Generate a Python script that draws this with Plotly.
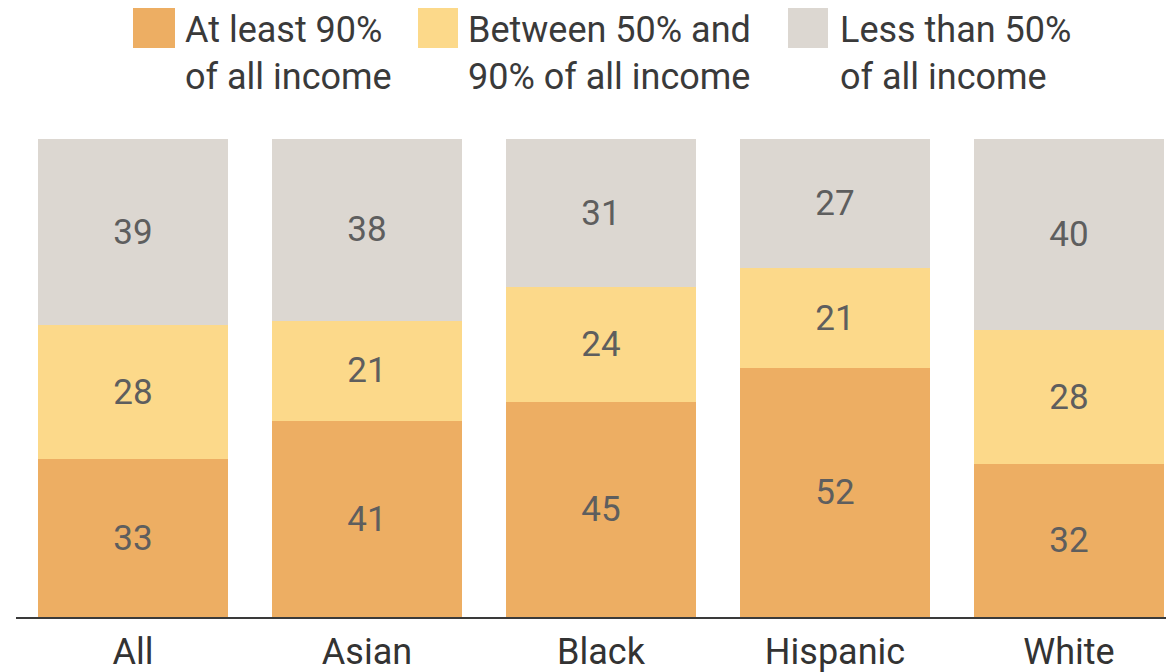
import plotly.graph_objects as go

# Share of income by group (percent)
groups = ["All", "Asian", "Black", "Hispanic", "White"]
at_least_90 = [33, 41, 45, 52, 32]
between_50_90 = [28, 21, 24, 21, 28]
less_than_50 = [39, 38, 31, 27, 40]

series_lines = [
    ("At least 90%", "of all income"),
    ("Between 50% and", "90% of all income"),
    ("Less than 50%", "of all income"),
]
series_values = [at_least_90, between_50_90, less_than_50]
series_colors = ["#EDAE63", "#FCD98A", "#DCD7D1"]

W, H = 1166, 672
M_L, M_R, M_T, M_B = 16, 0, 139, 55
FONT = "Roboto, 'Open Sans', sans-serif"

plot_w = W - M_L - M_R
plot_h = H - M_T - M_B


def px_x(px):
    return (px - M_L) / plot_w


def px_y(py):
    return (H - M_B - py) / plot_h


fig = go.Figure()
for lines, vals, color in zip(series_lines, series_values, series_colors):
    fig.add_trace(go.Bar(
        x=groups,
        y=vals,
        name=" ".join(lines),
        marker=dict(color=color, line=dict(width=0)),
        text=[str(v) for v in vals],
        textposition="inside",
        insidetextanchor="middle",
        textangle=0,
        textfont=dict(family=FONT, size=35, color="#5E5E5E"),
        showlegend=False,
    ))

# Legend: colored squares with two-line captions
legend_items = [
    (133, 175, 183),
    (418, 458, 466),
    (788, 828, 838),
]
line_centers = [30, 77]
shapes = []
annotations = []
for (x0, x1, tx), lines, color in zip(legend_items, series_lines, series_colors):
    shapes.append(dict(
        type="rect", xref="paper", yref="paper",
        x0=px_x(x0), x1=px_x(x1), y0=px_y(48), y1=px_y(8),
        fillcolor=color, line=dict(width=0),
    ))
    for txt, cy in zip(lines, line_centers):
        annotations.append(dict(
            xref="paper", yref="paper",
            x=px_x(tx), y=px_y(cy),
            xanchor="left", yanchor="middle", align="left",
            text=txt, showarrow=False,
            font=dict(family=FONT, size=36, color="#3A3A3A"),
        ))

fig.update_layout(
    width=W, height=H,
    margin=dict(l=M_L, r=M_R, t=M_T, b=M_B),
    barmode="stack",
    bargap=0.19,
    plot_bgcolor="white",
    paper_bgcolor="white",
    shapes=shapes,
    annotations=annotations,
    xaxis=dict(
        range=[-0.5, -0.5 + plot_w / 234.0],
        automargin=False,
        showline=True, linecolor="#3A3A3A", linewidth=2,
        showgrid=False, zeroline=False,
        ticks="outside", ticklen=2, tickcolor="rgba(0,0,0,0)",
        tickfont=dict(family=FONT, size=36, color="#333333"),
    ),
    yaxis=dict(
        range=[0, 100], visible=False, showgrid=False, zeroline=False,
    ),
)

fig.write_html("out.html")
